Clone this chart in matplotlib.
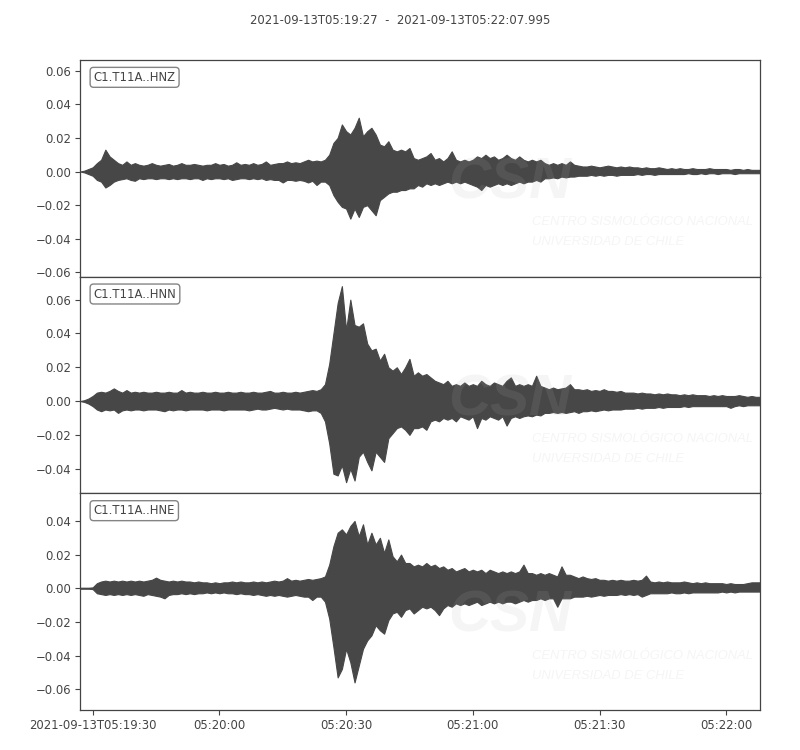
import numpy as np
import matplotlib
matplotlib.use("Agg")
import matplotlib.pyplot as plt
import matplotlib.dates as mdates
from matplotlib.ticker import MultipleLocator, FixedLocator, FixedFormatter
import datetime as dt

# ---------------- data (envelope of each trace, 1 value per second, in 1e-3 units) ----------------
start_time = "2021-09-13T05:19:27"
end_time = "2021-09-13T05:22:07.995"
channels = ["C1.T11A..HNZ", "C1.T11A..HNN", "C1.T11A..HNE"]

hnz_upper_milli = [
    0, 0.5, 1.5, 2.5, 5, 7, 13, 9, 7, 5,
    4, 6, 4, 5, 4, 3.5, 4, 5, 4, 3.5,
    4, 4.5, 3.5, 4, 5, 4, 4, 4.5, 4, 3.5,
    4, 4, 5, 4, 4.5, 3.5, 4, 5.5, 4, 4.5,
    4, 5, 4, 4.5, 6, 4, 4.5, 5, 5, 6,
    5, 5.5, 5, 6, 7, 6, 6.5, 6, 7, 10,
    17, 20, 28, 24, 22, 26, 32, 21, 24, 26,
    22, 16, 15, 18, 13, 12, 13, 12, 14, 8,
    7, 8, 9, 11, 7, 8, 6, 8, 12, 7,
    6, 7, 6, 7, 9, 8, 10, 8, 9, 7,
    8, 10, 8, 7, 9, 7, 6, 7, 6, 7,
    5, 4, 5, 4, 5, 4, 6, 4, 3.5, 3,
    3, 3.5, 3, 2.5, 3, 3.5, 3, 2.5, 3, 2.5,
    3, 2.5, 2.5, 2, 2.5, 2, 2, 2.5, 2, 1.5,
    2, 1.5, 2, 1.5, 1.5, 2, 1.5, 1.5, 1.5, 2,
    1.5, 1.5, 1.5, 1.5, 1, 1.5, 1.5, 1, 1.5, 1,
    1, 1,
]
hnz_lower_milli = [
    0, -0.5, -1.5, -2.5, -5, -6, -9.5, -8, -6, -5,
    -4.5, -4, -5, -5.5, -4, -4.5, -4, -4, -4.5, -4,
    -4, -4.5, -4, -4.5, -4, -4, -4.5, -4, -4, -5,
    -4, -4.5, -4, -4, -4.5, -4, -5, -4.5, -4, -4,
    -4.5, -4, -4.5, -4, -5, -4.5, -5, -5, -6.5, -5,
    -5, -5.5, -5, -5.5, -6.5, -5.5, -8, -6, -6, -8,
    -14, -18, -21, -22, -28, -22, -27, -21, -20, -23,
    -26, -17, -15, -13, -12, -12, -11, -11, -10, -10,
    -8, -9, -7, -8, -7, -8, -7, -6, -7, -6,
    -7, -6, -7, -8, -9, -11, -8, -9, -8, -7,
    -8, -7, -8, -7, -6, -7, -6, -6, -5, -6,
    -4, -4, -3.5, -4, -3, -3.5, -3, -3, -2.5, -2.5,
    -2.5, -2, -2.5, -2, -2.5, -2, -2, -2.5, -2, -2,
    -2, -2, -1.5, -2, -1.5, -1.5, -2, -1.5, -1.5, -1.5,
    -1.5, -1.5, -1.5, -1.5, -1, -1.5, -1.5, -1, -1.5, -1,
    -1, -1.5, -1, -1, -1, -1.5, -1, -1, -1, -1,
    -1, -1,
]
hnn_upper_milli = [
    0, 0.5, 1.5, 3, 5, 5.5, 5, 6, 7.5, 6,
    5, 6.5, 5, 5.5, 5, 5.5, 5, 5, 5.5, 5,
    5, 5.5, 5, 5, 6.5, 5, 5.5, 5, 5, 5.5,
    5, 5, 5.5, 5, 5, 5.5, 5, 5, 5.5, 5,
    5, 5.5, 5, 5, 5.5, 6, 5, 5, 5.5, 5,
    5, 5.5, 5, 5.5, 6, 6.5, 6, 7, 10, 22,
    40, 58, 68, 42, 60, 45, 44, 46, 34, 30,
    31, 24, 28, 20, 18, 20, 16, 20, 25, 15,
    17, 15, 16, 14, 12, 11, 10, 12, 9, 10,
    9, 11, 9, 10, 9, 12, 10, 9, 11, 10,
    9, 12, 14, 9, 10, 9, 10, 9, 15, 9,
    8, 7, 8, 7, 7.5, 8, 10, 7, 7, 6.5,
    7, 6, 6.5, 6, 7, 6, 6, 5.5, 6, 5,
    5, 5, 4.5, 5, 4.5, 4.5, 4, 4.5, 4, 4.5,
    4, 4, 3.5, 4, 3.5, 4, 3.5, 3.5, 3.5, 3,
    3.5, 3, 3.5, 3, 3, 3, 3.5, 3, 2.5, 3,
    2.5, 2.5,
]
hnn_lower_milli = [
    0, -0.5, -1.5, -3, -5, -6, -5, -5.5, -5, -7,
    -5.5, -5, -5.5, -5, -5, -5.5, -5, -5, -5, -5.5,
    -6, -5, -5.5, -5, -5, -5.5, -5, -5, -5, -5,
    -5.5, -5, -5, -5, -5.5, -5, -5, -5, -5, -5,
    -5.5, -5, -4.5, -5, -5, -4.5, -4, -4.5, -5, -4.5,
    -5, -5, -5, -5.5, -6, -5.5, -5.5, -7, -12, -25,
    -43, -44, -38, -48, -40, -47, -33, -30, -36, -41,
    -30, -33, -36, -22, -19, -16, -15, -17, -20, -16,
    -16, -15, -17, -12, -11, -12, -10, -11, -10, -12,
    -9, -10, -11, -9, -16, -10, -11, -9, -10, -11,
    -9, -14.5, -10, -9, -10, -9, -8.5, -9, -8, -8.5,
    -7, -7, -6.5, -7, -6.5, -7, -6.5, -6, -7, -6,
    -6, -5.5, -6, -5.5, -5, -5.5, -5, -5, -5, -4.5,
    -4.5, -4.5, -4, -4.5, -4, -4, -4, -3.5, -4, -3.5,
    -3.5, -3.5, -3.5, -3, -3.5, -3, -3, -3, -3, -3,
    -3, -3, -3, -3, -4, -3, -2.5, -3, -2.5, -2.5,
    -2.5, -2.5,
]
hne_upper_milli = [
    0.3, 0.3, 0.3, 0.5, 3, 4, 4.5, 4, 4.5, 4,
    4.5, 4, 4.5, 4, 4.5, 4, 4.5, 5, 6.3, 5,
    4.5, 4, 4.5, 4, 4.5, 4, 4, 3.5, 4, 3.5,
    3.5, 3, 3.5, 3, 3.5, 3.5, 4, 3.5, 4, 3.5,
    3.5, 4, 3.5, 4, 3.5, 4, 4.5, 4, 4.5, 6,
    4.5, 5, 4.5, 5, 5.5, 5, 5.5, 6, 7, 14,
    25, 33, 35, 32, 37, 40, 31, 38, 26, 33,
    26, 30, 21, 29, 19, 16, 20, 15, 15, 13,
    14, 13, 15, 13, 14, 12, 13, 11, 12, 10,
    11, 12, 10, 11, 10, 11, 9, 11, 10, 9,
    10, 9, 10, 9, 10, 14, 9, 9, 8, 9,
    8, 9, 8, 7, 13, 8, 8, 7, 6, 7,
    6, 5.5, 6, 5, 5, 4.5, 5, 4.5, 5, 4.5,
    4.5, 5, 4.5, 5, 7.5, 4, 3.5, 4, 3.5, 4,
    3.5, 3.5, 3.5, 4, 3.5, 3, 3.5, 3, 3.5, 3,
    3, 3, 3, 2.5, 3, 2.5, 2.5, 2.5, 3, 3.5,
    3.5, 3.5,
]
hne_lower_milli = [
    -0.3, -0.3, -0.3, -0.5, -3, -3.5, -4, -3.5, -4, -3.5,
    -4, -3.5, -4, -3.5, -4, -4.5, -3.5, -4, -4.5, -5,
    -6, -4, -3.5, -3.5, -3, -3.5, -3, -3.5, -3, -3,
    -2.5, -3, -2.5, -3, -2.5, -3, -3, -3.5, -3, -3.5,
    -3.5, -4, -3.5, -4, -4.5, -4, -4.5, -4, -4.5, -5,
    -4.5, -4, -4.5, -5, -5, -7, -5, -5, -8, -18,
    -35, -53, -48, -36, -44, -56, -46, -36, -31, -28,
    -22, -25, -27, -19, -15, -14, -17, -13, -12, -15,
    -13, -11, -12, -11, -13, -16, -12, -10, -11, -9,
    -10, -9, -10, -9, -8, -10, -9, -8, -9, -8,
    -9, -8, -8, -9, -8, -7, -8, -7, -7, -6,
    -7, -6, -6, -11, -6, -6, -6, -5, -5, -5,
    -4.5, -5, -4.5, -4, -4.5, -4, -4, -4, -3.5, -4,
    -3.5, -4, -3.5, -5, -4, -3, -3, -3, -3, -3,
    -2.5, -3, -3, -2.5, -3, -2.5, -2.5, -2.5, -2.5, -2.5,
    -2.5, -2.5, -2, -2.5, -2, -2.5, -2, -2, -2, -2,
    -2, -2,
]

y_limits = [(-0.0625, 0.0663), (-0.0546, 0.0736), (-0.0724, 0.0564)]
tick_times = ["2021-09-13T05:19:30", "2021-09-13T05:20:00", "2021-09-13T05:20:30",
              "2021-09-13T05:21:00", "2021-09-13T05:21:30", "2021-09-13T05:22:00"]
tick_labels = ["2021-09-13T05:19:30", "05:20:00", "05:20:30", "05:21:00", "05:21:30", "05:22:00"]
watermark_big = "CSN"
watermark_line1 = "CENTRO SISMOLÓGICO NACIONAL"
watermark_line2 = "UNIVERSIDAD DE CHILE"

# ---------------- style ----------------
text_color = "#444444"
trace_color = "#474747"
plt.rcParams["font.family"] = ["DejaVu Sans"]
plt.rcParams["font.size"] = 10
plt.rcParams["text.color"] = text_color
plt.rcParams["axes.edgecolor"] = text_color
plt.rcParams["xtick.color"] = text_color
plt.rcParams["ytick.color"] = text_color
plt.rcParams["xtick.labelcolor"] = text_color
plt.rcParams["ytick.labelcolor"] = text_color

fig = plt.figure(figsize=(8, 7.5), dpi=100)
axes = fig.subplots(3, 1, sharex=True, gridspec_kw=dict(hspace=0))
fig.subplots_adjust(left=0.1, right=0.95, top=0.92, bottom=0.0533)

t0 = mdates.date2num(dt.datetime.fromisoformat(start_time))
t_end = mdates.date2num(dt.datetime.fromisoformat(end_time))

uppers = [hnz_upper_milli, hnn_upper_milli, hne_upper_milli]
lowers = [hnz_lower_milli, hnn_lower_milli, hne_lower_milli]
wm_family = ["Liberation Sans", "DejaVu Sans"]
wm_kw = dict(style="italic", family=wm_family, color="#b2b2b2", alpha=0.13, zorder=10)

for i, ax in enumerate(axes):
    up = np.array(uppers[i], dtype=float) * 1e-3
    lo = np.array(lowers[i], dtype=float) * 1e-3
    tt = t0 + np.arange(len(up)) / 86400.0
    ax.fill_between(tt, lo, up, facecolor=trace_color, edgecolor=trace_color,
                    linewidth=0.8, zorder=2)
    ax.set_ylim(*y_limits[i])
    ax.yaxis.set_major_locator(MultipleLocator(0.02))
    ax.set_xlim(t0, t_end)
    ax.tick_params(axis="y", direction="out", length=3.5, width=0.8,
                   labelsize=8.33, pad=3)
    for s in ax.spines.values():
        s.set_linewidth(0.9)
        s.set_color(text_color)
    ax.text(0.02, 0.95, channels[i], transform=ax.transAxes, ha="left", va="top",
            fontsize=8.33, color=text_color, zorder=20,
            bbox=dict(boxstyle="round", fc="w", ec="#666666", alpha=0.8))
    # faint watermark
    ax.text(0.632, 0.43, watermark_big, transform=ax.transAxes, ha="center", va="center",
            fontsize=42, fontweight="bold", **wm_kw)
    ax.text(0.665, 0.251, watermark_line1, transform=ax.transAxes, ha="left", va="center",
            fontsize=9.4, **wm_kw)
    ax.text(0.665, 0.159, watermark_line2, transform=ax.transAxes, ha="left", va="center",
            fontsize=9.4, **wm_kw)
    if i < 2:
        ax.tick_params(axis="x", bottom=False, labelbottom=False)

tick_nums = [mdates.date2num(dt.datetime.fromisoformat(s)) for s in tick_times]
axes[-1].xaxis.set_major_locator(FixedLocator(tick_nums))
axes[-1].xaxis.set_major_formatter(FixedFormatter(tick_labels))
axes[-1].tick_params(axis="x", direction="out", length=3.5, width=0.8,
                     labelsize=8.33, pad=3)

fig.text(0.5, 0.973, f"{start_time}  -  {end_time}", ha="center", va="center",
         fontsize=8.33, color=text_color)

fig.savefig("out.png", dpi=100)
